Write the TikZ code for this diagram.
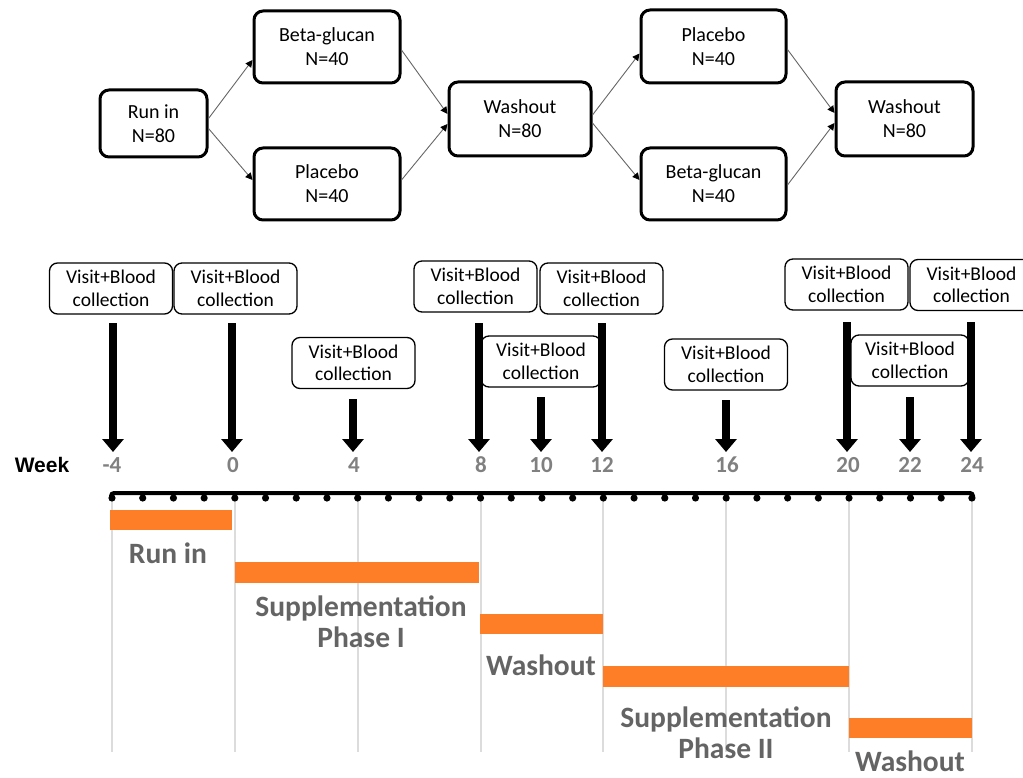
\documentclass[tikz,border=0pt]{standalone}
\usepackage{fontspec}
\setmainfont{Carlito}
\newfontfamily\arialfont{Liberation Sans}
\usetikzlibrary{arrows.meta}
\definecolor{barorange}{HTML}{FD7E26}
\definecolor{labgray}{HTML}{646464}
\definecolor{numgray}{HTML}{808080}
\definecolor{gridgray}{HTML}{DCDCDC}
\begin{document}
\begin{tikzpicture}[x=1pt,y=-1pt,
  flowbox/.style={draw, line width=3pt, rounded corners=9pt, align=center, inner sep=0pt,
    font=\fontsize{20}{24}\selectfont},
  flowarrow/.style={draw=black!60, line width=0.9pt, -{Triangle[width=7pt,length=7pt,fill=black,color=black]}},
  visitbox/.style={draw, line width=1.3pt, rounded corners=8pt, align=center, inner sep=0pt, fill=white,
    minimum width=123pt, minimum height=51pt, font=\fontsize{19.5}{22.5}\selectfont},
  visitarrow/.style={line width=8pt, -{Triangle[width=21pt,length=13pt]}},
  weeknum/.style={text=numgray, font=\bfseries\fontsize{23}{26}\selectfont},
  phaselabel/.style={text=labgray, align=center, inner sep=0pt, font=\bfseries\fontsize{29.5}{31}\selectfont},
  bar/.style={fill=barorange, draw=none},
  grid line/.style={draw=gridgray, line width=2pt}]
\useasboundingbox (0,0) rectangle (1023,778);

% ---------------- flowchart ----------------
\node[flowbox, minimum width=107pt, minimum height=67pt] (runin) at (153.5,123.5) {Run in\\N=80};
\node[flowbox, minimum width=146pt, minimum height=72pt] (beta1) at (327,47) {Beta-glucan\\N=40};
\node[flowbox, minimum width=146pt, minimum height=72pt] (plac1) at (327,184) {Placebo\\N=40};
\node[flowbox, minimum width=142pt, minimum height=74pt] (wash1) at (520,119) {Washout\\N=80};
\node[flowbox, minimum width=145pt, minimum height=73pt] (plac2) at (713.5,46.5) {Placebo\\N=40};
\node[flowbox, minimum width=145pt, minimum height=72pt] (beta2) at (713.5,184) {Beta-glucan\\N=40};
\node[flowbox, minimum width=137pt, minimum height=74pt] (wash2) at (904.5,119) {Washout\\N=80};

\draw[flowarrow] ([yshift=5pt]runin.east) -- ([yshift=-13pt]beta1.west);
\draw[flowarrow] ([yshift=-5pt]runin.east) -- ([yshift=4pt]plac1.west);
\draw[flowarrow] ([yshift=-3pt]beta1.east) -- ([yshift=5pt]wash1.west);
\draw[flowarrow] ([yshift=4pt]plac1.east) -- ([yshift=-5pt]wash1.west);
\draw[flowarrow] ([yshift=4pt]wash1.east) -- ([yshift=-7pt]plac2.west);
\draw[flowarrow] ([yshift=-4pt]wash1.east) -- ([yshift=4pt]beta2.west);
\draw[flowarrow] ([yshift=-3pt]plac2.east) -- ([yshift=6pt]wash2.west);
\draw[flowarrow] ([yshift=-1pt]beta2.east) -- ([yshift=-4pt]wash2.west);

% ---------------- week labels ----------------
\node[font=\arialfont\bfseries\fontsize{21}{24}\selectfont] (weeklab) at (42,465) {Week};
\node[weeknum] (wm4) at (112,465) {-4};
\node[weeknum] (w0) at (233,465) {0};
\node[weeknum] (w4) at (354,465) {4};
\node[weeknum] (w8) at (481,465) {8};
\node[weeknum] (w10) at (541,465) {10};
\node[weeknum] (w12) at (602,465) {12};
\node[weeknum] (w16) at (727,465) {16};
\node[weeknum] (w20) at (848,465) {20};
\node[weeknum] (w22) at (910,465) {22};
\node[weeknum] (w24) at (972,465) {24};

% ---------------- visit boxes ----------------
\node[visitbox] (vm4) at (111,288.5) {Visit+Blood\\collection};
\node[visitbox] (v0) at (235.5,288.5) {Visit+Blood\\collection};
\node[visitbox] (v4) at (353.5,363) {Visit+Blood\\collection};
\node[visitbox] (v8) at (475.5,286.5) {Visit+Blood\\collection};
\node[visitbox] (v12) at (601.5,288.5) {Visit+Blood\\collection};
\node[visitbox, minimum width=120pt] (v10) at (541,361.5) {Visit+Blood\\collection};
\node[visitbox] (v16) at (726,364.5) {Visit+Blood\\collection};
\node[visitbox] (v20) at (846.5,284.5) {Visit+Blood\\collection};
\node[visitbox] (v24) at (971.5,285) {Visit+Blood\\collection};
\node[visitbox, minimum width=118pt] (v22) at (910,360.5) {Visit+Blood\\collection};

% ---------------- visit arrows ----------------
\coordinate (tm4) at (113,452); \coordinate (t0) at (232,452); \coordinate (t4) at (353,452);
\coordinate (t8) at (479,452); \coordinate (t10) at (541,452); \coordinate (t12) at (602,452);
\coordinate (t16) at (726,452); \coordinate (t20) at (847,452); \coordinate (t22) at (910,452);
\coordinate (t24) at (971,452);
\draw[visitarrow] (tm4 |- 0,323) -- (tm4);
\draw[visitarrow] (t0 |- 0,323) -- (t0);
\draw[visitarrow] (t4 |- 0,399) -- (t4);
\draw[visitarrow] (t8 |- 0,323) -- (t8);
\draw[visitarrow] (t10 |- 0,397) -- (t10);
\draw[visitarrow] (t12 |- 0,323) -- (t12);
\draw[visitarrow] (t16 |- 0,400) -- (t16);
\draw[visitarrow] (t20 |- 0,322) -- (t20);
\draw[visitarrow] (t22 |- 0,397) -- (t22);
\draw[visitarrow] (t24 |- 0,322) -- (t24);

% ---------------- grid lines ----------------
\foreach \w in {-4,0,4,8,12,16,20,24}{
  \draw[grid line] ({112+(\w+4)*30.71},496) -- ({112+(\w+4)*30.71},752);
}

% ---------------- axis ----------------
\draw[line width=4pt, line cap=round, rounded corners=3pt] (111,499) -- (111,493) -- (973,493) -- (973,499);
\foreach \w in {-4,...,24}{
  \draw[line width=3.5pt] ({112+(\w+4)*30.71},493) -- ({112+(\w+4)*30.71},497);
  \fill ({112+(\w+4)*30.71},498) circle (3.6pt);
}

% ---------------- bars ----------------
\fill[bar] (110,510) rectangle (232,530);
\fill[bar] (235,562) rectangle (479,583);
\fill[bar] (480,614) rectangle (603,634);
\fill[bar] (603,666) rectangle (849,687);
\fill[bar] (849,718) rectangle (972,738);

% ---------------- phase labels ----------------
\node[phaselabel] (lrun) at (168,553) {Run in};
\node[phaselabel] (lsup1) at (361,622) {Supplementation\\Phase I};
\node[phaselabel] (lwash1) at (541,665) {Washout};
\node[phaselabel] (lsup2) at (726,733) {Supplementation\\Phase II};
\node[phaselabel] (lwash2) at (910,761) {Washout};
\end{tikzpicture}
\end{document}
